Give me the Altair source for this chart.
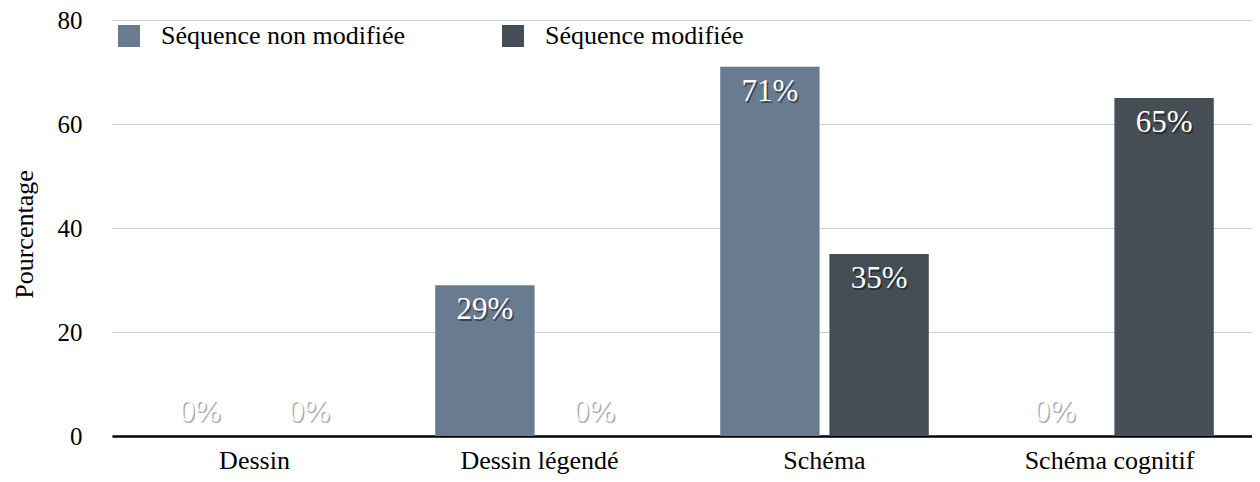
import altair as alt
import pandas as pd

categories = ["Dessin", "Dessin légendé", "Schéma", "Schéma cognitif"]
series = ["Séquence non modifiée", "Séquence modifiée"]
non_modifiee = [0, 29, 71, 0]
modifiee = [0, 0, 35, 65]
colors = ["#697b90", "#454e54"]
y_ticks = [0, 20, 40, 60, 80]

rows = []
for i, c in enumerate(categories):
    rows.append({"cat": c, "serie": series[0], "value": non_modifiee[i], "label": f"{non_modifiee[i]}%"})
    rows.append({"cat": c, "serie": series[1], "value": modifiee[i], "label": f"{modifiee[i]}%"})
df = pd.DataFrame(rows)

FONT = "Liberation Serif"

base = alt.Chart(df).encode(
    x=alt.X("cat:N", sort=categories, title=None,
            scale=alt.Scale(paddingInner=0, paddingOuter=0),
            axis=alt.Axis(labelAngle=0, labelFontSize=26, labelFont=FONT, labelColor="black",
                          labelPadding=11, ticks=False, domainColor="black", domainWidth=2.5,
                          labelLimit=400)),
    xOffset=alt.XOffset("serie:N", sort=series,
                        scale=alt.Scale(paddingInner=0.09, paddingOuter=0.35)),
    y=alt.Y("value:Q",
            scale=alt.Scale(domain=[0, 80], nice=False),
            axis=alt.Axis(values=y_ticks, domain=False, ticks=False, labelPadding=30,
                          labelFontSize=25, labelFont=FONT, labelColor="black",
                          gridColor="#d0d0d0", gridWidth=1.2,
                          title="Pourcentage", titleFontSize=26, titleFont=FONT,
                          titleFontWeight="normal", titleColor="black",
                          titleAngle=270, titleX=-88, titleY=214,
                          titleAlign="center", titleBaseline="middle")),
)

bars = base.mark_bar().encode(
    color=alt.Color("serie:N", sort=series,
                    scale=alt.Scale(domain=series, range=colors),
                    legend=alt.Legend(title=None, orient="none", legendX=4, legendY=3,
                                      direction="horizontal", symbolType="square",
                                      symbolSize=484, symbolStrokeWidth=0,
                                      labelFontSize=26, labelColor="black",
                                      labelOffset=19, columnPadding=94, padding=0,
                                      labelLimit=400))
)

pos = alt.datum.value > 0
zero = alt.datum.value == 0

shadow_pos = base.mark_text(baseline="middle", fontSize=31, color="black",
                            opacity=0.45, dy=27, dx=1.5).encode(text="label:N").transform_filter(pos)
text_pos = base.mark_text(baseline="middle", fontSize=31, color="white",
                          dy=25).encode(text="label:N").transform_filter(pos)
shadow_zero = base.mark_text(baseline="middle", fontSize=31, color="#777777",
                             opacity=0.6, dy=-22, dx=1.5).encode(text="label:N").transform_filter(zero)
text_zero = base.mark_text(baseline="middle", fontSize=31, color="white",
                           dy=-24).encode(text="label:N").transform_filter(zero)

chart = alt.layer(bars, shadow_pos, text_pos, shadow_zero, text_zero).properties(
    width=1140, height=416,
    autosize=alt.AutoSizeParams(type="none"),
    padding={"left": 104, "top": 12, "right": 0, "bottom": 38},
).configure(font=FONT).configure_text(font=FONT).configure_mark(font=FONT).configure_legend(
    labelFont=FONT
).configure_view(stroke=None).configure_axis(gridOpacity=1)

chart.save("out.html", embed_options={"renderer": "svg", "actions": False})
